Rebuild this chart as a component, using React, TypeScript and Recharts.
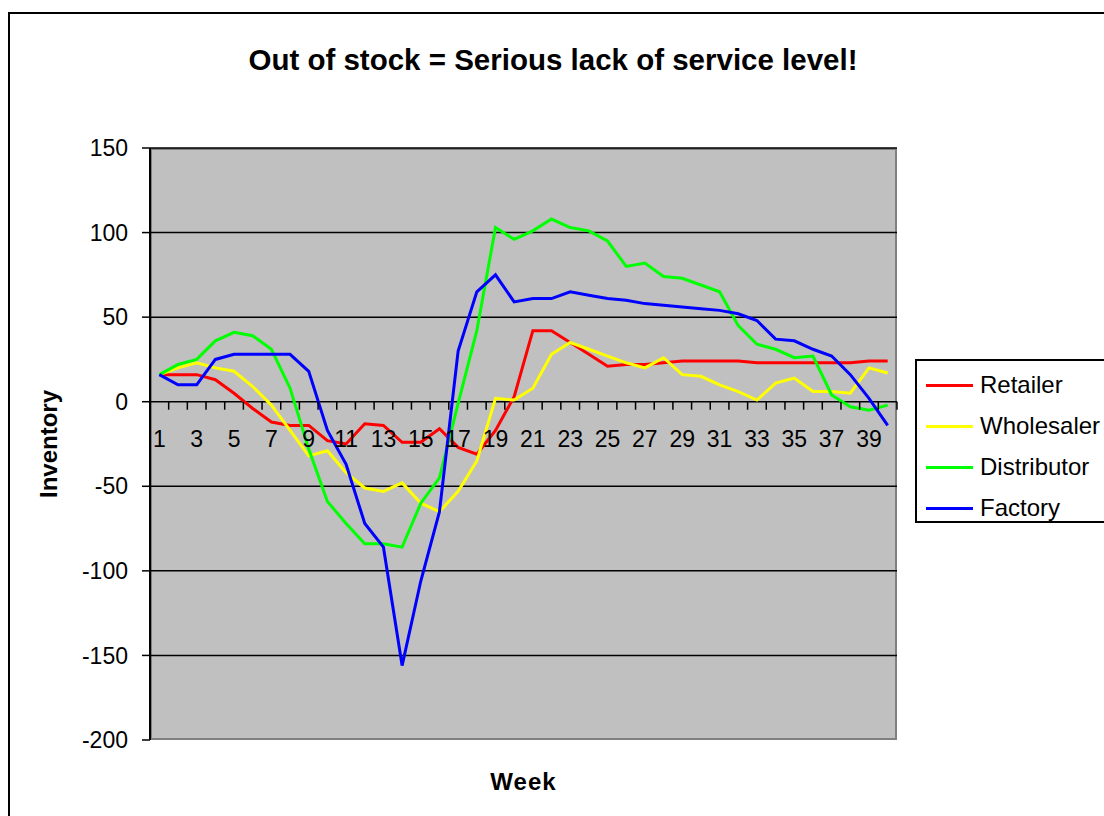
import React from "react";
import {
	LineChart,
	Line,
	XAxis,
	YAxis,
	CartesianGrid,
	Label,
} from "recharts";

const FONT = "Arial, 'Liberation Sans', sans-serif";

const weeks = [
	1, 2, 3, 4, 5, 6, 7, 8, 9, 10, 11, 12, 13, 14, 15, 16, 17, 18, 19, 20,
	21, 22, 23, 24, 25, 26, 27, 28, 29, 30, 31, 32, 33, 34, 35, 36, 37, 38, 39, 40,
];

const retailer = [
	16, 16, 16, 13, 5, -4, -12, -14, -14, -23, -25, -13, -14, -24, -24, -16, -27, -31, -17, 3,
	42, 42, 35, 28, 21, 22, 22, 23, 24, 24, 24, 24, 23, 23, 23, 23, 23, 23, 24, 24,
];
const wholesaler = [
	16, 20, 23, 20, 18, 9, -2, -17, -32, -29, -42, -51, -53, -48, -60, -65, -53, -35, 2, 1,
	8, 28, 35, 31, 27, 23, 20, 26, 16, 15, 10, 6, 1, 11, 14, 6, 6, 5, 20, 17,
];
const distributor = [
	16, 22, 25, 36, 41, 39, 31, 8, -28, -59, -72, -84, -84, -86, -60, -45, -1, 42, 103, 96,
	101, 108, 103, 101, 95, 80, 82, 74, 73, 69, 65, 45, 34, 31, 26, 27, 4, -3, -5, -2,
];
const factory = [
	16, 10, 10, 25, 28, 28, 28, 28, 18, -17, -37, -72, -86, -156, -106, -65, 30, 65, 75, 59,
	61, 61, 65, 63, 61, 60, 58, 57, 56, 55, 54, 52, 48, 37, 36, 31, 27, 16, 2, -14,
];

const yTicks = [150, 100, 50, 0, -50, -100, -150, -200];

const series = [
	{ key: "Retailer", color: "#FF0000", values: retailer },
	{ key: "Wholesaler", color: "#FFFF00", values: wholesaler },
	{ key: "Distributor", color: "#00FF00", values: distributor },
	{ key: "Factory", color: "#0000FF", values: factory },
];

const data = weeks.map((w, i) => {
	const row: any = { week: w };
	series.forEach((s) => (row[s.key] = s.values[i]));
	return row;
});

// chart geometry
const W = 1104;
const H = 816;
const M = { top: 148, right: 207, bottom: 75, left: 0 };
const Y_AXIS_W = 150;
const X_AXIS_H = 1;
const PLOT_X = M.left + Y_AXIS_W;
const PLOT_W = W - M.left - M.right - Y_AXIS_W;
const PLOT_H = H - M.top - M.bottom - X_AXIS_H;
const Y_MAX = yTicks[0];
const Y_MIN = yTicks[yTicks.length - 1];
const ZERO_Y = M.top + (PLOT_H * Y_MAX) / (Y_MAX - Y_MIN);
const BAND = PLOT_W / weeks.length;

// x axis crosses at zero, like the spreadsheet
const WeekTick = (props: any) => {
	const { x, index, payload } = props;
	return (
		<g>
			<line
				x1={x + BAND / 2}
				x2={x + BAND / 2}
				y1={ZERO_Y}
				y2={ZERO_Y + 8}
				stroke="#000"
				strokeWidth={1.5}
			/>
			{index % 2 === 0 && (
				<text
					x={x}
					y={ZERO_Y + 45}
					textAnchor="middle"
					fill="#000"
					fontSize={23}
					fontFamily={FONT}
				>
					{payload.value}
				</text>
			)}
		</g>
	);
};

const App = () => {
	return (
		<div
			style={{
				position: "absolute",
				left: 0,
				top: 0,
				width: W,
				height: H,
				overflow: "hidden",
				background: "#fff",
				fontFamily: FONT,
			}}
		>
			<div
				style={{
					position: "absolute",
					left: 8,
					top: 12,
					width: 1200,
					height: 900,
					border: "2px solid #000",
				}}
			/>
			<div
				style={{
					position: "absolute",
					left: 0,
					top: 43,
					width: 1106,
					textAlign: "center",
					fontSize: 29.5,
					fontWeight: "bold",
					lineHeight: "34px",
				}}
			>
				Out of stock = Serious lack of service level!
			</div>
			{/* plot area background with grey frame */}
			<div
				style={{
					position: "absolute",
					left: PLOT_X,
					top: M.top,
					width: PLOT_W,
					height: PLOT_H,
					boxSizing: "border-box",
					background: "#C0C0C0",
					border: "2px solid #808080",
				}}
			/>
			<div style={{ position: "absolute", left: 0, top: 0 }}>
				<LineChart width={W} height={H} data={data} margin={M}>
					<CartesianGrid
						vertical={false}
						horizontalValues={yTicks.slice(0, -1)}
						stroke="#000"
						strokeWidth={1.5}
					/>
					<XAxis
						dataKey="week"
						height={X_AXIS_H}
						interval={0}
						padding={{ left: BAND / 2, right: BAND / 2 }}
						axisLine={false}
						tickLine={false}
						tick={WeekTick}
					>
						<Label
							value="Week"
							position="bottom"
							offset={32}
							fill="#000"
							fontSize={24}
							fontWeight="bold"
							fontFamily={FONT}
							letterSpacing={1}
						/>
					</XAxis>
					<YAxis
						width={Y_AXIS_W}
						domain={[Y_MIN, Y_MAX]}
						ticks={yTicks}
						interval={0}
						tickSize={8}
						tickMargin={14}
						stroke="#000"
						axisLine={{ stroke: "#000", strokeWidth: 2 }}
						tickLine={{ stroke: "#000", strokeWidth: 1.5 }}
						tick={{ fill: "#000", fontSize: 23, fontFamily: FONT }}
					>
						<Label
							value="Inventory"
							angle={-90}
							position="insideLeft"
							offset={48}
							fill="#000"
							fontSize={24}
							fontWeight="bold"
							fontFamily={FONT}
							style={{ textAnchor: "middle" }}
						/>
					</YAxis>
					{series.map((s) => (
						<Line
							key={s.key}
							dataKey={s.key}
							stroke={s.color}
							strokeWidth={3}
							dot={false}
							activeDot={false}
							isAnimationActive={false}
						/>
					))}
				</LineChart>
			</div>
			<div
				style={{
					position: "absolute",
					left: 915,
					top: 359,
					width: 240,
					height: 160,
					border: "2px solid #000",
					background: "#fff",
				}}
			>
				{series.map((s, i) => (
					<div
						key={s.key}
						style={{
							position: "absolute",
							left: 9,
							top: 10 + i * 41,
							height: 28,
							display: "flex",
							alignItems: "center",
							whiteSpace: "nowrap",
						}}
					>
						<div style={{ width: 47, height: 3, background: s.color }} />
						<span style={{ marginLeft: 7, fontSize: 24 }}>{s.key}</span>
					</div>
				))}
			</div>
		</div>
	);
};

export default App;
